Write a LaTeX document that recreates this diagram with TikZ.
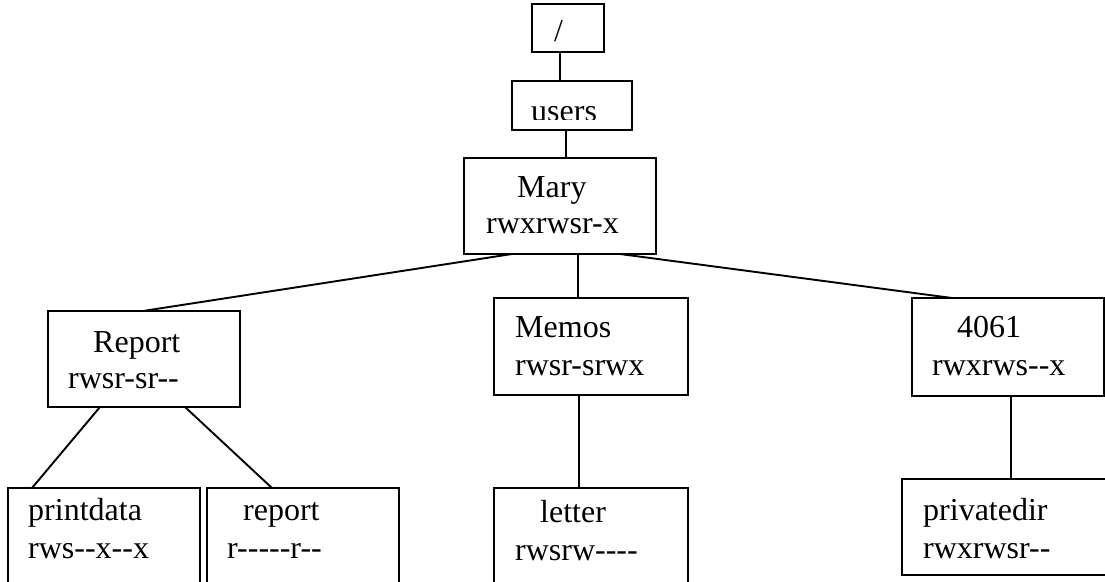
\documentclass[tikz,border=0pt]{standalone}
\usepackage{fontspec}
\setmainfont{Liberation Serif}[Ligatures=TeXOff]
\begin{document}
\begin{tikzpicture}[x=1pt,y=-1pt,
  box/.style={draw, line width=1.9pt, rectangle, inner sep=0pt, outer sep=0pt, anchor=north west},
  txt/.style={inner sep=0pt, anchor=base west, font=\fontsize{32}{36}\selectfont},
  conn/.style={line width=1.9pt}]
\clip[use as bounding box] (0,0) rectangle (1105,581);
% boxes
\node[box, minimum width=72pt, minimum height=48pt] (root) at (532,4) {};
\node[box, minimum width=120pt, minimum height=49pt] (users) at (512,81) {};
\node[box, minimum width=192pt, minimum height=96pt] (mary) at (464,158) {};
\node[box, minimum width=192pt, minimum height=96pt] (report) at (48,311) {};
\node[box, minimum width=194pt, minimum height=97pt] (memos) at (494,298) {};
\node[box, minimum width=192pt, minimum height=98pt] (n4061) at (912,298) {};
\node[box, minimum width=192pt, minimum height=100pt] (printdata) at (8,488) {};
\node[box, minimum width=192pt, minimum height=100pt] (reportf) at (207,488) {};
\node[box, minimum width=194pt, minimum height=100pt] (letter) at (494,488) {};
\node[box, minimum width=208pt, minimum height=96pt] (privatedir) at (902,479) {};
% texts
\node[txt] (t-root) at (554,41) {/};
\begin{scope}
\clip (500,60) rectangle (640,119.5);
\node[txt] (t-users) at (531,121) {users};
\end{scope}
\node[txt] (t-mary1) at (517,197) {Mary};
\node[txt] (t-mary2) at (486,233) {rwxrwsr-x};
\node[txt] (t-rep1) at (93,352) {Report};
\node[txt] (t-rep2) at (68,388) {rwsr-sr--};
\node[txt] (t-mem1) at (515,337) {Memos};
\node[txt] (t-mem2) at (515,375) {rwsr-srwx};
\node[txt] (t-40611) at (957,337) {4061};
\node[txt] (t-40612) at (932,375) {rwxrws--x};
\node[txt] (t-pd1) at (28,520) {printdata};
\node[txt] (t-pd2) at (28,558) {rws--x--x};
\node[txt] (t-rf1) at (243,520) {report};
\node[txt] (t-rf2) at (227,558) {r-----r--};
\node[txt] (t-let1) at (540,522) {letter};
\node[txt] (t-let2) at (515,560) {rwsrw----};
\node[txt] (t-pv1) at (923,520) {privatedir};
\node[txt] (t-pv2) at (923,558) {rwxrwsr--};
% connectors
\draw[conn] ([xshift=-8pt]root.south) -- ([xshift=-8pt]root.south |- users.north);
\draw[conn] ([xshift=-6pt]users.south) -- ([xshift=-6pt]users.south |- mary.north);
\draw[conn] ([xshift=-48pt]mary.south) -- ([xshift=-1pt]report.north);
\draw[conn] ([xshift=18pt]mary.south) -- ([xshift=18pt]mary.south |- memos.north);
\draw[conn] ([xshift=60pt]mary.south) -- ([xshift=-56pt]n4061.north);
\draw[conn] ([xshift=-44pt]report.south) -- ([xshift=-72pt]printdata.north);
\draw[conn] ([xshift=41pt]report.south) -- ([xshift=-31pt]reportf.north);
\draw[conn] ([xshift=-12pt]memos.south) -- ([xshift=-12pt]memos.south |- letter.north);
\draw[conn] ([xshift=3pt]n4061.south) -- ([xshift=3pt]n4061.south |- privatedir.north);
\end{tikzpicture}
\end{document}
